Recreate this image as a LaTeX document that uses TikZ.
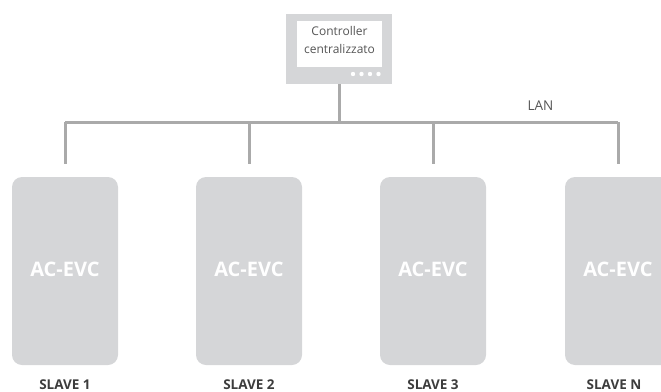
\documentclass[tikz,border=0pt]{standalone}
\usepackage{fontspec}
\setmainfont{Open Sans}
\usepackage{tikz}
\usetikzlibrary{positioning}

\definecolor{boxgray}{HTML}{D5D6D8}
\definecolor{linegray}{HTML}{AAAAAA}
\definecolor{labelgray}{HTML}{3C3C3C}
\definecolor{textgray}{HTML}{555555}

\tikzset{
	slavebox/.style={rectangle, rounded corners=10pt, fill=boxgray, minimum width=106pt, minimum height=188pt, text=white, font=\fontsize{20}{24}\selectfont\bfseries},
	slavelabel/.style={inner sep=0pt, font=\fontsize{13.5}{15}\selectfont\bfseries, text=labelgray},
	lan/.style={draw=linegray, line width=3pt},
}

\begin{document}
\begin{tikzpicture}[x=1pt, y=-1pt]
		\useasboundingbox (0,0) rectangle (661,391);
		\clip (0,0) rectangle (661,391);
		% controller
		\node [rectangle, fill=boxgray, minimum width=106pt, minimum height=70pt] (ctrl) at (339,49) {};
		\node [rectangle, fill=white, minimum width=85pt, minimum height=46pt] (screen) at (339.5,44) {};
		\node [align=center, text=textgray, font=\fontsize{12}{18}\selectfont, inner sep=0pt] (ctrltext) at (339.5,39.5) {Controller\\centralizzato};
		\foreach \x in {353,361.5,370,378.5}
			\fill [white] (\x,74) circle (2.2pt);
		% slaves
		\node [slavebox] (s1) at (65,271) {\raisebox{4pt}{AC-EVC}};
		\node [slavebox] (s2) at (249,271) {\raisebox{4pt}{AC-EVC}};
		\node [slavebox] (s3) at (433,271) {\raisebox{4pt}{AC-EVC}};
		\node [slavebox] (sn) at (618,271) {\raisebox{4pt}{AC-EVC}};
		\node [slavelabel, below=14pt of s1] (l1) {SLAVE 1};
		\node [slavelabel, below=14pt of s2] (l2) {SLAVE 2};
		\node [slavelabel, below=14pt of s3] (l3) {SLAVE 3};
		\node [slavelabel, below=14pt of sn, xshift=-4pt] (ln) {SLAVE N};
		% bus
		\coordinate (b0) at (339,122);
		\coordinate (b1) at (65,122);
		\coordinate (bn) at (618,122);
		\draw [lan] (ctrl.south) -- (b0);
		\draw [lan] (b1) -- (bn);
		\foreach \n in {s1,s2,s3,sn}
			\draw [lan] (\n.north |- b0) -- ([yshift=13pt]\n.north);
		\node [text=textgray, font=\fontsize{13.5}{16}\selectfont] (lanlabel) at (540.5,106) {LAN};
	\end{tikzpicture}
\end{document}
